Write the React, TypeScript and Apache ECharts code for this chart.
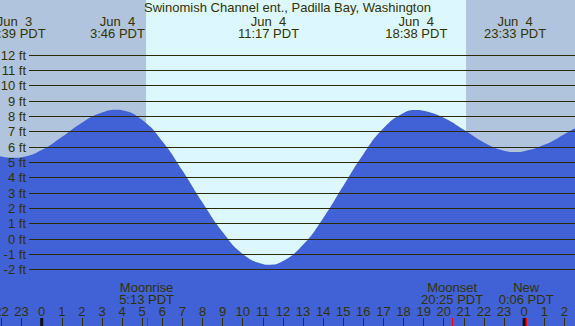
import React, { useEffect, useRef } from "react";
import * as echarts from "echarts";

// hours since Jun 4 00:00 PDT
const tideTimes = [-3, -2, -1.35, -1, 0, 1, 2, 3, 3.77, 4, 5, 6, 7, 8, 9, 10, 11, 11.28, 12, 13, 14, 15, 16, 17, 18, 18.63, 19, 20, 21, 22, 23, 23.55, 24, 25, 26, 27];
const tideHeights = [5.77, 5.38, 5.3, 5.34, 5.81, 6.66, 7.59, 8.25, 8.43, 8.4, 7.76, 6.38, 4.47, 2.38, 0.46, -0.97, -1.63, -1.68, -1.44, -0.38, 1.36, 3.46, 5.53, 7.22, 8.22, 8.42, 8.36, 7.91, 7.12, 6.3, 5.76, 5.67, 5.73, 6.14, 6.84, 7.6];

const extremeTimes = [-1.35, 3.767, 11.283, 18.633, 23.55];
const extremeDates = ["Jun\u00a0\u00a03", "Jun\u00a0\u00a04", "Jun\u00a0\u00a04", "Jun\u00a0\u00a04", "Jun\u00a0\u00a04"];
const extremeLabels = ["22:39 PDT", "3:46 PDT", "11:17 PDT", "18:38 PDT", "23:33 PDT"];

const hourTicks = [-2, -1, 0, 1, 2, 3, 4, 5, 6, 7, 8, 9, 10, 11, 12, 13, 14, 15, 16, 17, 18, 19, 20, 21, 22, 23, 24, 25, 26];
const hourLabels = ["22", "23", "0", "1", "2", "3", "4", "5", "6", "7", "8", "9", "10", "11", "12", "13", "14", "15", "16", "17", "18", "19", "20", "21", "22", "23", "0", "1", "2"];

const moonTimes = [5.217, 20.417, 24.1];
const moonNames = ["Moonrise", "Moonset", "New"];
const moonLabels = ["5:13 PDT", "20:25 PDT", "0:06 PDT"];
const midnightTimes = [0, 24];
const daylight = [5.19, 21.11];

const TITLE = "Swinomish Channel ent., Padilla Bay, Washington";

export default function App() {
  const ref = useRef<HTMLDivElement>(null);
  useEffect(() => {
    const chart = echarts.init(ref.current!, null, { renderer: "svg" });
    const ink = "#333300";
    const font = "Liberation Sans";
    const fs = 13;
    chart.setOption({
      animation: false,
      backgroundColor: "#B0C4DE",
      title: {
        text: TITLE,
        left: "center",
        top: 1,
        padding: 0,
        textStyle: { fontSize: fs, fontWeight: "normal", color: ink, fontFamily: font },
      },
      grid: [
        { left: 0, right: 0, top: 0, bottom: 0, show: false, containLabel: false, outerBoundsMode: "none" },
        { left: 29, right: 0, top: 55, bottom: 56.3, show: false, containLabel: false, outerBoundsMode: "none" },
      ],
      xAxis: [
        {
          type: "value",
          gridIndex: 0,
          min: -2.075,
          max: 26.53,
          z: 6,
          axisLine: { show: false, onZero: false },
          splitLine: { show: false },
          axisTick: { inside: true, length: 8, customValues: hourTicks, lineStyle: { color: ink, width: 1 } },
          axisLabel: {
            inside: true,
            margin: 8,
            customValues: hourTicks,
            formatter: (v: number) => hourLabels[hourTicks.indexOf(Math.round(Number(v)))],
            color: ink,
            fontSize: fs,
            fontFamily: font,
          },
        },
        { type: "value", gridIndex: 1, min: 0, max: 1, show: false },
      ],
      yAxis: [
        { type: "value", gridIndex: 0, min: -5.671, max: 15.586, show: false },
        {
          type: "value",
          gridIndex: 1,
          min: -2,
          max: 12,
          interval: 1,
          z: 5,
          axisLine: { show: false, onZero: false },
          axisTick: { show: false },
          splitLine: { show: true, lineStyle: { color: "#2B2B00", width: 1 } },
          axisLabel: { formatter: "{value} ft", margin: 3, color: ink, fontSize: fs, fontFamily: font },
        },
      ],
      series: [
        {
          type: "line",
          xAxisIndex: 0,
          yAxisIndex: 0,
          data: [],
          z: 1,
          markArea: {
            silent: true,
            itemStyle: { color: "#DDF7FF" },
            data: [[{ xAxis: daylight[0] }, { xAxis: daylight[1] }]],
          },
        },
        {
          type: "line",
          xAxisIndex: 0,
          yAxisIndex: 0,
          data: tideTimes.map((t, i) => [t, tideHeights[i]]),
          smooth: true,
          symbol: "none",
          lineStyle: { width: 0 },
          areaStyle: { color: "#4161D6", opacity: 1, origin: "start" },
          z: 2,
        },
      ],
    });

    const px = (t: number) => chart.convertToPixel({ xAxisIndex: 0 }, t) as number;
    const txt = (text: string, x: number, y: number) => ({
      type: "text",
      x,
      y,
      z: 10,
      style: {
        text,
        fill: ink,
        font: `${fs}px "${font}"`,
        textAlign: "center",
        textVerticalAlign: "middle",
        align: "center",
        verticalAlign: "middle",
      },
    });
    const elements: any[] = [];
    extremeTimes.forEach((t, i) => {
      const x = px(t);
      elements.push(txt(extremeDates[i], x, 21));
      elements.push(txt(extremeLabels[i], x, 33));
    });
    moonTimes.forEach((t, i) => {
      const x = px(t);
      elements.push(txt(moonNames[i], x, 287));
      elements.push(txt(moonLabels[i], x, 299));
    });
    midnightTimes.forEach((t) => {
      const x = px(t);
      elements.push({ type: "rect", z: 10, shape: { x: x - 1.5, y: 318, width: 3, height: 8 }, style: { fill: "#111111" } });
    });
    moonTimes.forEach((t) => {
      const x = px(t);
      elements.push({ type: "rect", z: 11, shape: { x: Math.round(x), y: 318, width: 1, height: 8 }, style: { fill: "#FF0000" } });
    });
    chart.setOption({ graphic: elements });

    return () => chart.dispose();
  }, []);
  return <div ref={ref} style={{ position: "fixed", left: 0, top: 0, width: 575, height: 326 }} />;
}
